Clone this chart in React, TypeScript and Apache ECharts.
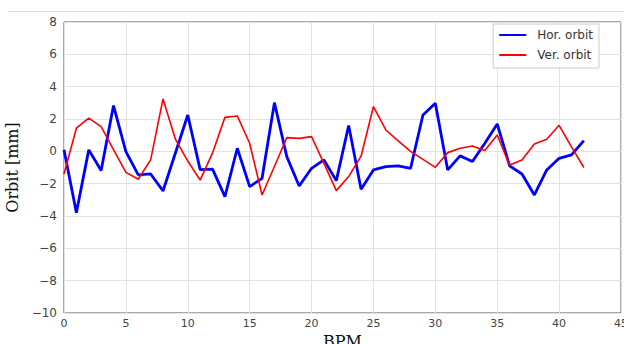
import React, { useEffect, useRef } from "react";
import * as echarts from "echarts";

const bpm = [
  0, 1, 2, 3, 4, 5, 6, 7, 8, 9, 10, 11, 12, 13, 14, 15, 16, 17, 18, 19, 20,
  21, 22, 23, 24, 25, 26, 27, 28, 29, 30, 31, 32, 33, 34, 35, 36, 37, 38, 39,
  40, 41, 42,
];

const horOrbit = [
  0.1, -3.79, 0.09, -1.19, 2.83, -0.02, -1.46, -1.4, -2.45, -0.1,
  2.25, -1.13, -1.1, -2.8, 0.19, -2.18, -1.67, 3.01, -0.33, -2.14,
  -1.05, -0.53, -1.81, 1.6, -2.35, -1.15, -0.94, -0.9, -1.05, 2.25,
  2.97, -1.15, -0.28, -0.63, 0.5, 1.69, -0.9, -1.4, -2.7, -1.15,
  -0.43, -0.22, 0.66,
];

const verOrbit = [
  -1.4, 1.43, 2.05, 1.53, 0.1, -1.3, -1.73, -0.53, 3.24, 0.75,
  -0.6, -1.78, -0.1, 2.1, 2.19, 0.5, -2.7, -0.94, 0.85, 0.8,
  0.91, -0.74, -2.43, -1.56, -0.3, 2.77, 1.32, 0.65, 0.0, -0.5,
  -0.99, -0.08, 0.19, 0.33, 0.05, 1.01, -0.85, -0.53, 0.46, 0.75,
  1.61, 0.28, -1.0,
];

const seriesNames = ["Hor. orbit", "Ver. orbit"];

const minus = (v: number) => String(v).replace("-", "\u2212");

export default function App() {
  const ref = useRef<HTMLDivElement>(null);
  useEffect(() => {
    if (!ref.current) return;
    const chart = echarts.init(ref.current, null, { renderer: "svg" });
    chart.setOption({
      animation: false,
      backgroundColor: "#ffffff",
      grid: {
        left: 64,
        right: 3,
        top: 22,
        bottom: 31,
        show: true,
        borderColor: "#555555",
        borderWidth: 1,
        containLabel: false,
        outerBoundsMode: "none",
      },
      graphic: [
        {
          type: "line",
          shape: { x1: 8, y1: 11.5, x2: 624, y2: 11.5 },
          style: { stroke: "#dddddd", lineWidth: 1 },
        },
      ],
      legend: {
        data: seriesNames,
        orient: "vertical",
        right: 25,
        top: 24,
        backgroundColor: "#ffffff",
        borderColor: "#cccccc",
        borderWidth: 1,
        borderRadius: 0,
        padding: [4, 6, 6, 6],
        itemGap: 6,
        itemWidth: 33,
        itemHeight: 3,
        icon: "path://M0,0.5L27,0.5L27,2.5L0,2.5Z M33,0L33,0L33,3L33,3Z",
        textStyle: {
          fontFamily: "DejaVu Sans",
          fontSize: 12,
          color: "#333333",
          lineHeight: 14,
        },
      },
      xAxis: {
        type: "value",
        min: 0,
        max: 45,
        interval: 5,
        name: "BPM",
        nameLocation: "middle",
        nameGap: 17,
        nameTextStyle: {
          fontFamily: "DejaVu Serif",
          fontSize: 16,
          color: "#111111",
          verticalAlign: "top",
        },
        axisLine: { show: false },
        axisTick: { show: false },
        axisLabel: {
          fontFamily: "DejaVu Sans",
          fontSize: 11,
          color: "#444444",
          margin: 5,
          formatter: (v: number) => minus(v),
        },
        splitLine: { show: true, lineStyle: { color: "#e2e2e2", width: 1 } },
      },
      yAxis: {
        type: "value",
        min: -10,
        max: 8,
        interval: 2,
        name: "Orbit [mm]",
        nameLocation: "middle",
        nameGap: 36,
        nameRotate: 90,
        nameTextStyle: {
          fontFamily: "DejaVu Serif",
          fontSize: 16,
          color: "#111111",
        },
        axisLine: { show: false },
        axisTick: { show: false },
        axisLabel: {
          fontFamily: "DejaVu Sans",
          fontSize: 12,
          color: "#444444",
          margin: 7,
          formatter: (v: number) => minus(v),
        },
        splitLine: { show: true, lineStyle: { color: "#e2e2e2", width: 1 } },
      },
      series: [
        {
          name: seriesNames[0],
          type: "line",
          data: bpm.map((b, i) => [b, horOrbit[i]]),
          showSymbol: false,
          symbol: "none",
          lineStyle: { color: "#0000ff", width: 2.8 },
          itemStyle: { color: "#0000ff" },
        },
        {
          name: seriesNames[1],
          type: "line",
          data: bpm.map((b, i) => [b, verOrbit[i]]),
          showSymbol: false,
          symbol: "none",
          lineStyle: { color: "#ff0000", width: 1.6 },
          itemStyle: { color: "#ff0000" },
        },
      ],
    });
    return () => chart.dispose();
  }, []);
  return <div ref={ref} style={{ width: 624, height: 344, position: "absolute", left: 0, top: 0 }} />;
}
